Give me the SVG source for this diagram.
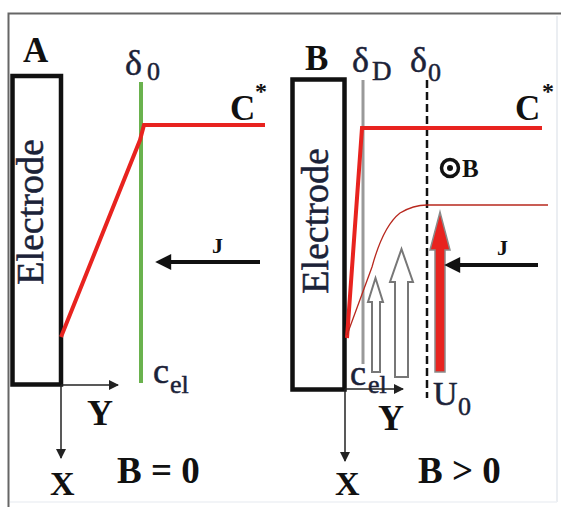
<svg xmlns="http://www.w3.org/2000/svg" width="561" height="507" viewBox="0 0 561 507">
<defs>
<style>
.t{font-family:"Liberation Serif","Times New Roman",Times,"DejaVu Serif",serif;font-weight:normal;fill:#1b2238;stroke:#1b2238;stroke-width:0.5}
.b{font-family:"Liberation Serif","Times New Roman",Times,"DejaVu Serif",serif;font-weight:bold;fill:#111}
.el{fill:none;stroke:#111;stroke-width:4.5}
.red{fill:none;stroke:#e8231f;stroke-width:4}
.ax{fill:none;stroke:#222;stroke-width:1.5}
.hol{fill:#fff;stroke:#777;stroke-width:2}
</style>
<marker id="ah" viewBox="0 0 10 10" refX="9" refY="5" markerWidth="10" markerHeight="10" markerUnits="userSpaceOnUse" orient="auto">
<path d="M0,0 L10,5 L0,10 Z" fill="#222"/>
</marker>
<marker id="jh" viewBox="0 0 10 10" refX="2" refY="5" markerWidth="4.5" markerHeight="4" orient="auto">
<path d="M0,0 L10,5 L0,10 Z" fill="#111"/>
</marker>
</defs>
<rect x="0" y="0" width="561" height="507" fill="#fff"/>
<g id="frame">
<path d="M8.5,507 V13.5 H561" fill="none" stroke="#666" stroke-width="2"/>
<line x1="557" y1="16" x2="557" y2="502" stroke="#e4e8ee" stroke-width="1.5"/>
<line x1="10" y1="502" x2="557" y2="502" stroke="#eef0f4" stroke-width="1.5"/>
</g>

<g id="panelA">
<text class="b" x="23" y="62" font-size="35">A</text>
<g id="electrodeA">
<rect class="el" x="12.5" y="76" width="48.5" height="308.5"/>
<text class="t" font-size="38" text-anchor="middle" transform="translate(43,212) rotate(-90)">Electrode</text>
</g>
<g id="deltaA">
<line x1="141" y1="82" x2="141" y2="383" stroke="#6ab24e" stroke-width="4"/>
<text class="t" x="125" y="75" font-size="36">δ<tspan x="147" y="80" font-size="26">0</tspan></text>
</g>
<text class="b" x="230" y="120" font-size="35">C<tspan x="255" y="99" font-size="24">*</tspan></text>
<text class="t" x="153" y="383" font-size="36">c<tspan x="170" y="393" font-size="26">el</tspan></text>
<text class="b" x="212" y="253" font-size="22">J</text>
<text class="b" x="87" y="425" font-size="36">Y</text>
<text class="b" x="50" y="495" font-size="34">X</text>
<text class="b" x="117" y="483" font-size="37">B = 0</text>
</g>

<g id="panelB">
<text class="b" x="305" y="70" font-size="35">B</text>
<g id="electrodeB">
<rect class="el" x="292.5" y="79.5" width="52" height="310"/>
<text class="t" font-size="38" text-anchor="middle" transform="translate(328,221) rotate(-90)">Electrode</text>
</g>
<g id="deltaD">
<line x1="363" y1="80" x2="363" y2="364" stroke="#999" stroke-width="3"/>
<text class="t" x="352" y="72" font-size="36">δ<tspan x="372" y="80" font-size="27">D</tspan></text>
</g>
<g id="delta0B">
<line x1="427" y1="80" x2="427" y2="398" stroke="#111" stroke-width="2.5" stroke-dasharray="8,4"/>
<text class="t" x="410" y="72" font-size="36">δ<tspan x="428" y="81" font-size="26">0</tspan></text>
</g>
<text class="b" x="515" y="120" font-size="35">C<tspan x="542" y="99" font-size="24">*</tspan></text>
<g id="fieldB">
<circle cx="450" cy="168" r="8.5" fill="none" stroke="#111" stroke-width="3.5"/>
<circle cx="450" cy="168" r="3" fill="#111"/>
<text class="b" x="462" y="177" font-size="25">B</text>
</g>
<g id="flow">
<path class="hol" d="M372,372 V302 H368 L375.5,278 L383,302 H380 V372 Z"/>
<path class="hol" d="M395,377 V282 H390 L401.5,249 L413,282 H408 V377 Z"/>
<path d="M435,372 V250 H430 L440,212 L450,250 H445 V372 Z" fill="#e8231f" stroke="#8a8a8a" stroke-width="1.5"/>
</g>
<text class="b" x="497" y="255" font-size="22">J</text>
<text class="t" x="350" y="385" font-size="36">c<tspan x="368" y="393" font-size="26">el</tspan></text>
<text class="t" x="433" y="405" font-size="34">U<tspan x="458" y="415" font-size="26">0</tspan></text>
<text class="b" x="378" y="430" font-size="36">Y</text>
<text class="b" x="335" y="495" font-size="34">X</text>
<text class="b" x="418" y="483" font-size="37">B &gt; 0</text>
</g>

<g id="connectors">
<polyline class="red" points="61,337 140,140 144,125 265,125"/>
<line x1="260" y1="262" x2="168" y2="262" stroke="#111" stroke-width="4" marker-end="url(#jh)"/>
<line class="ax" x1="61" y1="385" x2="118" y2="385" marker-end="url(#ah)"/>
<line class="ax" x1="61" y1="385" x2="61" y2="458" marker-end="url(#ah)"/>
<polyline class="red" points="347,338 362,128 542,128" stroke-width="3.5"/>
<path d="M347,335 L372,267 C378,245 386,224 400,213 C410,207 418,205 427,205 L548,205" fill="none" stroke="#b8281e" stroke-width="1.3"/>
<line x1="538" y1="265" x2="457" y2="265" stroke="#111" stroke-width="4" marker-end="url(#jh)"/>
<line class="ax" x1="345" y1="389" x2="403" y2="389" marker-end="url(#ah)"/>
<line class="ax" x1="345" y1="389" x2="345" y2="461" marker-end="url(#ah)"/>
</g>
</svg>
